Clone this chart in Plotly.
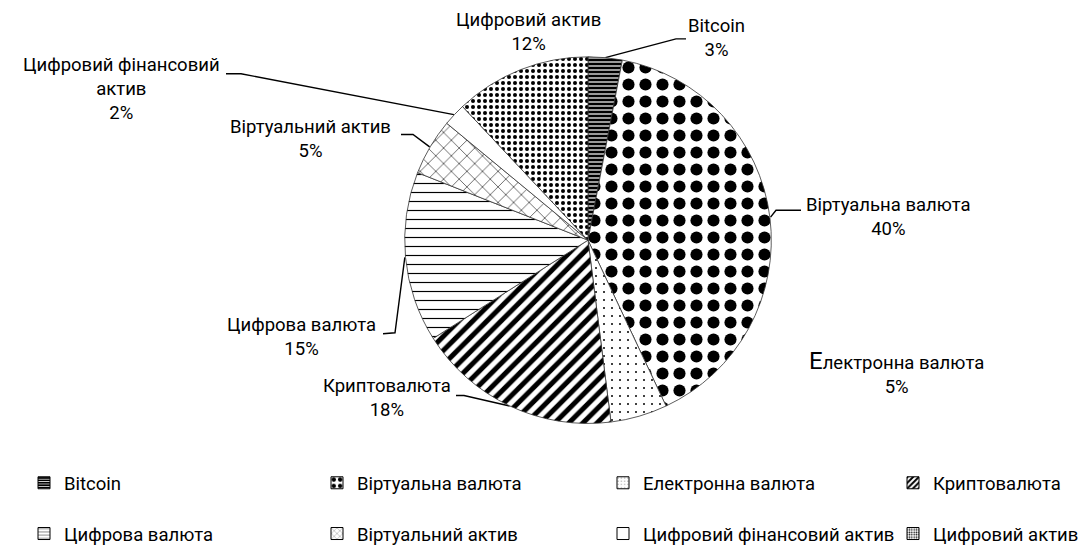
import math
import plotly.graph_objects as go

# ---------------- data ----------------
categories = ["Bitcoin", "Віртуальна валюта", "Електронна валюта", "Криптовалюта",
              "Цифрова валюта", "Віртуальний актив", "Цифровий фінансовий актив",
              "Цифровий актив"]
shares = [3, 40, 5, 18, 15, 5, 2, 12]

# ---------------- styling ----------------
W, H = 1087, 545
CX, CY, R = 580, 233, 184
FONT = "Roboto, 'Noto Sans', sans-serif"
FS = 18.5

pat_shape = ["-", ".", ".", "/", "-", "x", "", "."]
pat_fg = ["white", "black", "black", "black", "black", "black", "black", "black"]
pat_bg = ["black", "white", "white", "white", "white", "white", "white", "white"]
pat_size = [4, 17, 8, 10, 9, 11, 8, 6]
pat_solid = [0.3, 0.4, 0.05, 0.5, 0.13, 0.1, 0.2, 0.35]

# label placement (pixel centres) and leader polylines (text end -> elbow)
label_pos = {
    "Bitcoin": (708, 30),
    "Віртуальна валюта": (880, 210),
    "Електронна валюта": (888, 366),
    "Криптовалюта": (379, 391),
    "Цифрова валюта": (293, 330),
    "Віртуальний актив": (302, 131),
    "Цифровий фінансовий актив": (113, 81),
    "Цифровий актив": (520, 24),
}
leader_pts = {
    "Bitcoin": [(678, 31), (668, 31)],
    "Віртуальна валюта": [(793, 203), (768, 203)],
    "Криптовалюта": [(448, 389), (456, 389)],
    "Цифрова валюта": [(375, 327), (387, 326)],
    "Віртуальний актив": [(393, 127), (405, 127)],
    "Цифровий фінансовий актив": [(218, 66), (233, 66)],
}
display_name = {
    "Цифровий фінансовий актив": "Цифровий фінансовий<br>актив",
    "Електронна валюта": "<span style='font-size:24px'>Е</span>лектронна валюта",
}

fig = go.Figure()

fig.add_trace(go.Pie(
    labels=categories, values=shares, sort=False, direction="clockwise", rotation=0,
    textinfo="none", hoverinfo="skip", showlegend=False,
    domain=dict(x=[(CX - R) / W, (CX + R) / W], y=[1 - (CY + R) / H, 1 - (CY - R) / H]),
    marker=dict(colors=["white"] * len(categories),
                line=dict(color="#333333", width=0.8),
                pattern=dict(shape=pat_shape, fgcolor=pat_fg, bgcolor=pat_bg,
                             size=pat_size, solidity=pat_solid, fillmode="replace")),
))

# leader lines: from label elbow to slice mid-angle on the rim
total = sum(shares)
cum = 0
lx, ly = [], []
for name, v in zip(categories, shares):
    mid = 2 * math.pi * (cum + v / 2) / total
    cum += v
    ex, ey = CX + R * math.sin(mid), CY - R * math.cos(mid)
    if name in leader_pts:
        for px, py in leader_pts[name] + [(ex, ey)]:
            lx.append(px)
            ly.append(py)
        lx.append(None)
        ly.append(None)
fig.add_trace(go.Scatter(x=lx, y=ly, mode="lines", line=dict(color="black", width=1.4),
                         hoverinfo="skip", showlegend=False))

# legend entries (one legend per entry so the columns match the reference)
leg_text_x = [59, 352, 638, 928]
leg_row_y = [477, 528]
for i, (name, v) in enumerate(zip(categories, shares)):
    key = "legend" if i == 0 else f"legend{i + 1}"
    fig.add_trace(go.Bar(
        x=[-100], y=[1], name=name, legend=key, showlegend=True, hoverinfo="skip",
        marker=dict(color="white", line=dict(color="black", width=1),
                    pattern=dict(shape=pat_shape[i], fgcolor=pat_fg[i], bgcolor=pat_bg[i],
                                 size=max(3, pat_size[i] // 2), solidity=pat_solid[i],
                                 fillmode="replace")),
    ))
    col, row = i % 4, i // 4
    fig.layout[key] = dict(x=(leg_text_x[col] - 43) / W, y=1 - leg_row_y[row] / H,
                           xanchor="left", yanchor="middle", bgcolor="rgba(0,0,0,0)",
                           borderwidth=0, font=dict(family=FONT, size=FS, color="black"),
                           itemclick=False, itemdoubleclick=False)

annotations = []
for name, v in zip(categories, shares):
    x, y = label_pos[name]
    annotations.append(dict(x=x, y=y, xref="x", yref="y", showarrow=False,
                            text=f"{display_name.get(name, name)}<br>{v}%",
                            font=dict(family=FONT, size=FS, color="black"),
                            xanchor="center", yanchor="middle", align="center"))

fig.update_layout(
    width=W, height=H, margin=dict(l=0, r=0, t=0, b=0),
    paper_bgcolor="white", plot_bgcolor="rgba(0,0,0,0)",
    xaxis=dict(range=[0, W], visible=False, fixedrange=True, domain=[0, 1]),
    yaxis=dict(range=[H, 0], visible=False, fixedrange=True, domain=[0, 1]),
    annotations=annotations, hovermode=False, showlegend=True,
)

fig.write_html("out.html", config={"displayModeBar": False})
